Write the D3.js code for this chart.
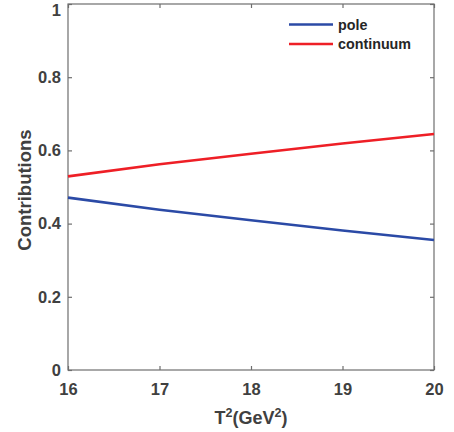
<!DOCTYPE html>
<html>
<head>
<meta charset="utf-8">
<script src="https://cdn.jsdelivr.net/npm/d3@7"></script>
<style>
  html, body { margin: 0; padding: 0; background: #fff; }
  svg { display: block; }
  text { font-family: "Liberation Sans", Arial, Helvetica, sans-serif; font-weight: bold; fill: #404040; }
</style>
</head>
<body>
<svg id="chart" width="454" height="432"></svg>
<script>
// Borel parameter T^2 (GeV^2)
const tSquared = [16, 17, 18, 19, 20];
// Fractional contributions of pole and continuum
const pole = [0.471, 0.438, 0.409, 0.381, 0.355];
const continuum = [0.529, 0.562, 0.591, 0.619, 0.645];
const xTicks = [16, 17, 18, 19, 20];
const yTicks = [0, 0.2, 0.4, 0.6, 0.8, 1];
const seriesNames = ["pole", "continuum"];
const seriesColors = ["#2b4aa6", "#ee1f26"];

const svg = d3.select("#chart");
const m = { left: 68, right: 434, top: 4, bottom: 370 };

const x = d3.scaleLinear().domain([16, 20]).range([m.left, m.right]);
const y = d3.scaleLinear().domain([0, 1]).range([m.bottom, m.top]);

const axisColor = "#6e6e6e";
const tickLen = 4;

// Box frame
svg.append("rect")
  .attr("x", m.left).attr("y", m.top)
  .attr("width", m.right - m.left).attr("height", m.bottom - m.top)
  .attr("fill", "none").attr("stroke", axisColor).attr("stroke-width", 1.2);

function styleAxis(g, showLabels) {
  g.select(".domain").remove();
  g.selectAll(".tick line").attr("stroke", axisColor).attr("stroke-width", 1.2);
  g.selectAll(".tick text")
    .attr("fill", "#404040")
    .style("font-size", "16.5px")
    .style("font-weight", "bold");
  if (!showLabels) g.selectAll(".tick text").remove();
}

// Bottom axis (ticks point inward)
svg.append("g")
  .attr("transform", `translate(0,${m.bottom})`)
  .call(d3.axisBottom(x).tickValues(xTicks).tickFormat(d3.format("d"))
        .tickSizeInner(-tickLen).tickSizeOuter(0).tickPadding(13))
  .call(g => styleAxis(g, true));

// Top axis
svg.append("g")
  .attr("transform", `translate(0,${m.top})`)
  .call(d3.axisTop(x).tickValues(xTicks).tickSizeInner(-tickLen).tickSizeOuter(0))
  .call(g => styleAxis(g, false));

// Left axis
svg.append("g")
  .attr("transform", `translate(${m.left},0)`)
  .call(d3.axisLeft(y).tickValues(yTicks).tickFormat(d => d === 0 || d === 1 ? d3.format("d")(d) : d3.format(".1f")(d))
        .tickSizeInner(-tickLen).tickSizeOuter(0).tickPadding(7))
  .call(g => styleAxis(g, true))
  // keep the top label inside the page
  .call(g => g.selectAll(".tick text").filter(d => d === 1).attr("dy", "0.32em").attr("y", 6.5));

// Right axis
svg.append("g")
  .attr("transform", `translate(${m.right},0)`)
  .call(d3.axisRight(y).tickValues(yTicks).tickSizeInner(-tickLen).tickSizeOuter(0))
  .call(g => styleAxis(g, false));

// Curves
const line = d3.line().x((d, i) => x(tSquared[i])).y(d => y(d));
[pole, continuum].forEach((vals, k) => {
  svg.append("path")
    .datum(vals)
    .attr("d", line)
    .attr("fill", "none")
    .attr("stroke", seriesColors[k])
    .attr("stroke-width", 2.6);
});

// Axis titles
const xLabel = svg.append("text")
  .attr("x", (m.left + m.right) / 2)
  .attr("y", 424)
  .attr("text-anchor", "middle")
  .style("font-size", "18px");
xLabel.append("tspan").text("T");
xLabel.append("tspan").attr("dy", -7).style("font-size", "12.5px").text("2");
xLabel.append("tspan").attr("dy", 7).text("(GeV");
xLabel.append("tspan").attr("dy", -7).style("font-size", "12.5px").text("2");
xLabel.append("tspan").attr("dy", 7).text(")");

svg.append("text")
  .attr("transform", `translate(31,${(m.top + m.bottom) / 2 + 3}) rotate(-90)`)
  .attr("text-anchor", "middle")
  .style("font-size", "18.5px")
  .text("Contributions");

// Legend
const legend = svg.append("g");
seriesNames.forEach((name, k) => {
  const ly = 24.5 + k * 19.5;
  legend.append("line")
    .attr("x1", 289).attr("x2", 333)
    .attr("y1", ly).attr("y2", ly)
    .attr("stroke", seriesColors[k]).attr("stroke-width", 2.6);
  legend.append("text")
    .attr("x", 338).attr("y", ly + 5)
    .style("font-size", "14.3px")
    .style("fill", "#262626")
    .text(name);
});
</script>
</body>
</html>
